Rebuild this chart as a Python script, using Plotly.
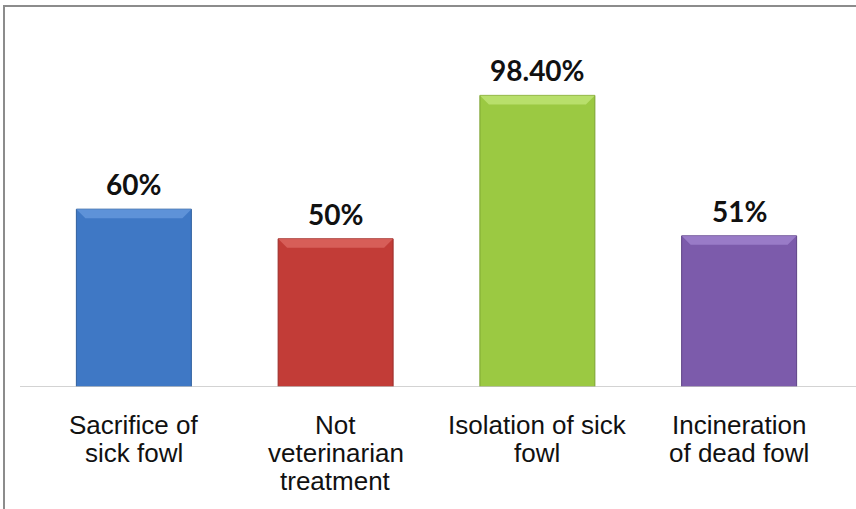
import plotly.graph_objects as go

# Share of respondents per practice
categories = ["Sacrifice of<br>sick fowl", "Not<br>veterinarian<br>treatment",
              "Isolation of sick<br>fowl", "Incineration<br>of dead fowl"]
values = [60, 50, 98.4, 51]
value_labels = ["60%", "50%", "98.40%", "51%"]
bar_colors = ["#3F78C5", "#C23C37", "#9BC942", "#7C5BAB"]
edge_colors = ["#2F5F9E", "#9A2D29", "#7BA12F", "#5E4386"]
bevel_colors = ["#6A9BDD", "#DE6A64", "#C2E57A", "#A386D0"]

W, H = 856, 509
ML, MR, MT, MB = 33, 16, 61, 122
Y_MAX = 110
BARGAP = 0.43

fig = go.Figure()
fig.add_trace(go.Bar(
    x=list(range(len(categories))),
    y=values,
    marker=dict(color=bar_colors, line=dict(color=edge_colors, width=1)),
    hoverinfo="skip",
))

# bevelled top edge of each bar, built from the bar values
plot_h = H - MT - MB
px_per_unit = plot_h / Y_MAX
half = (1 - BARGAP) / 2
bevel_px = 9
dx = bevel_px / ((W - ML - MR) / len(categories))
dy = bevel_px / px_per_unit
shapes = []
for i, v in enumerate(values):
    shapes.append(dict(
        type="path", xref="x", yref="y",
        path=(f"M {i-half} {v} L {i+half} {v} L {i+half-dx} {v-dy} "
              f"L {i-half+dx} {v-dy} Z"),
        fillcolor=bevel_colors[i], line=dict(width=0), opacity=0.75, layer="above",
    ))

# frame around the chart area (left and top edges visible)
shapes.append(dict(
    type="rect", xref="paper", yref="paper",
    x0=(4 - ML) / (W - ML - MR), x1=1.2,
    y0=-0.5, y1=(H - MB - 6) / plot_h,
    line=dict(color="#8C8C8C", width=2), fillcolor="rgba(0,0,0,0)", layer="below",
))
# category axis baseline
shapes.append(dict(
    type="line", xref="paper", yref="y",
    x0=(20 - ML) / (W - ML - MR), x1=1.1, y0=0, y1=0,
    line=dict(color="#C4C4C4", width=1.5), layer="above",
))

annotations = []
for i, (v, lab) in enumerate(zip(values, value_labels)):
    annotations.append(dict(
        x=i, y=v, xref="x", yref="y", text=f"<b>{lab}</b>",
        showarrow=False, yanchor="bottom", yshift=6,
        font=dict(family="Lato", size=28, color="#111111"),
    ))

# category names under the baseline, one annotation per text line
LINE_STEP = 28
for i, cat in enumerate(categories):
    for k, line in enumerate(cat.split("<br>")):
        annotations.append(dict(
            x=i, y=0, xref="x", yref="y", text=line,
            showarrow=False, yanchor="middle", xanchor="center",
            yshift=-(38 + k * LINE_STEP),
            font=dict(family="Liberation Sans", size=26, color="#111111"),
        ))

fig.update_layout(
    width=W, height=H,
    margin=dict(l=ML, r=MR, t=MT, b=MB),
    paper_bgcolor="white", plot_bgcolor="white",
    bargap=BARGAP, showlegend=False,
    shapes=shapes, annotations=annotations,
    xaxis=dict(
        range=[-0.5, len(categories) - 0.5], tickvals=[],
        showgrid=False, zeroline=False, showline=False, ticks="",
        showticklabels=False,
    ),
    yaxis=dict(range=[0, Y_MAX], visible=False),
)

fig.write_html("out.html")
